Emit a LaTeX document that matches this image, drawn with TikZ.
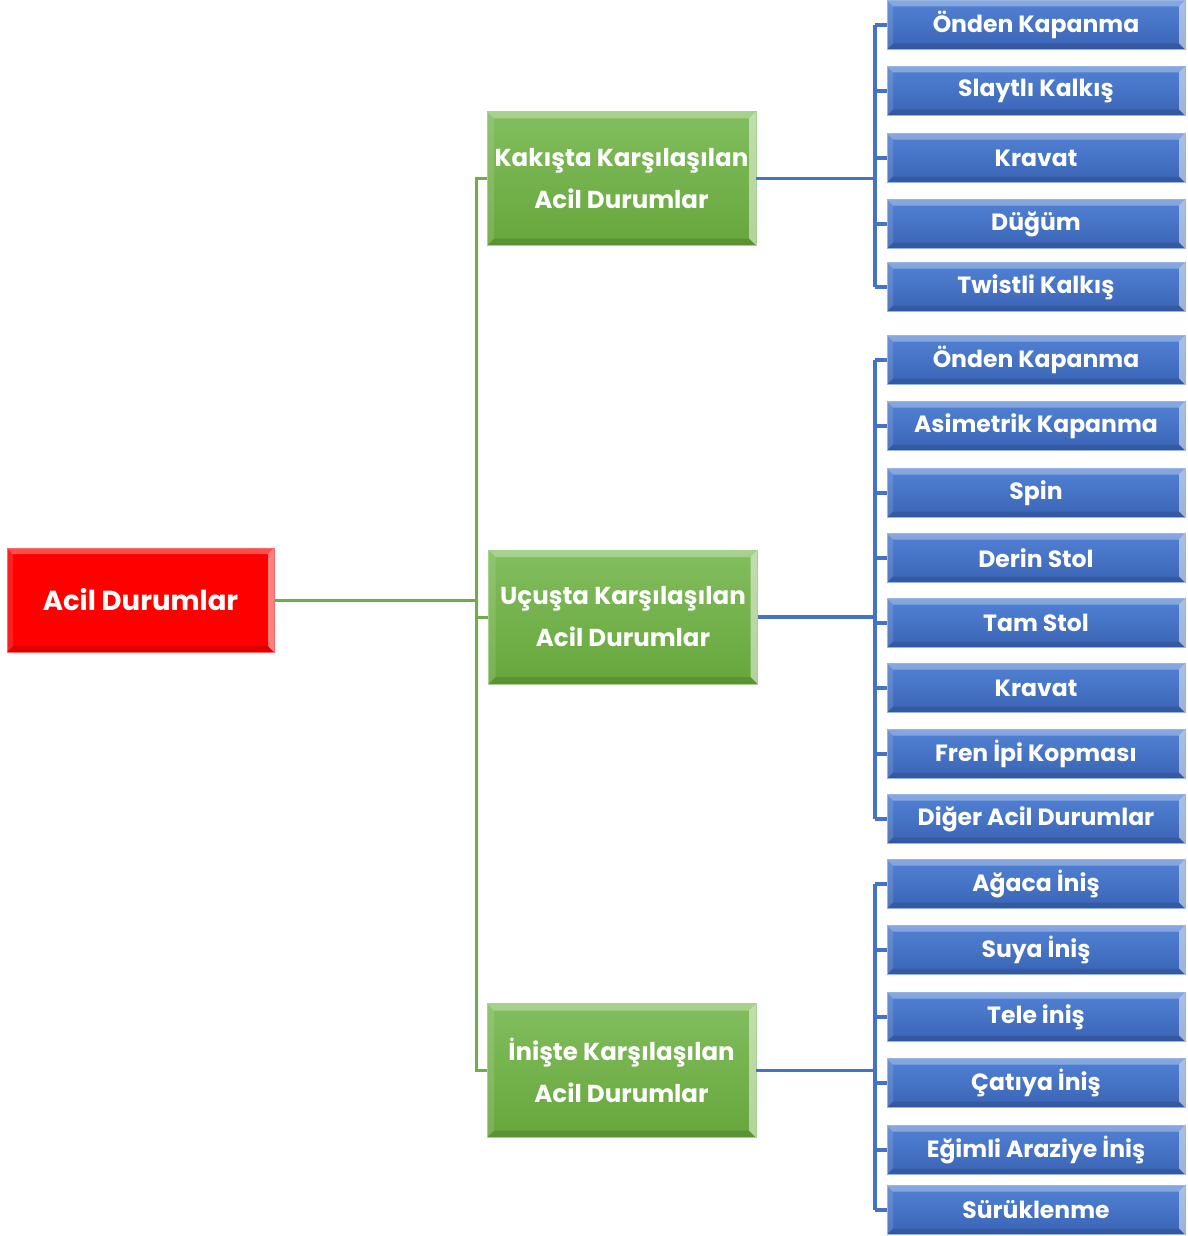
\documentclass[tikz,border=0pt]{standalone}
\usepackage{fontspec}
\setmainfont{Poppins}
\usetikzlibrary{calc}
\definecolor{rbase}{HTML}{FF0000}
\definecolor{gtop}{HTML}{82BE5E}
\definecolor{gbot}{HTML}{67A63C}
\definecolor{btop}{HTML}{5282D4}
\definecolor{bbot}{HTML}{3A64B6}
\definecolor{gline}{HTML}{70AD47}
\definecolor{bline}{HTML}{4472C4}
\tikzset{
  bevel/.style={path picture={
    \coordinate (pnw) at (path picture bounding box.north west);
    \coordinate (pne) at (path picture bounding box.north east);
    \coordinate (psw) at (path picture bounding box.south west);
    \coordinate (pse) at (path picture bounding box.south east);
    \fill[white,opacity=0.30] (pnw) -- (pne) -- ($(pne)+(-#1,-#1)$) -- ($(pnw)+(#1,-#1)$) -- cycle;
    \fill[white,opacity=0.12] (pnw) -- ($(pnw)+(#1,-#1)$) -- ($(psw)+(#1,#1)$) -- (psw) -- cycle;
    \fill[white,opacity=0.50] (pne) -- ($(pne)+(-#1,-#1)$) -- ($(pse)+(-#1,#1)$) -- (pse) -- cycle;
    \fill[black,opacity=0.12] (psw) -- ($(psw)+(#1,#1)$) -- ($(pse)+(-#1,#1)$) -- (pse) -- cycle;
  }},
  rootbox/.style={inner sep=0pt, minimum width=267pt, minimum height=104pt,
    fill=rbase, draw=red!60!white, line width=0.6pt, bevel=6pt, text=white,
    font=\fontsize{27.5}{33}\selectfont\bfseries},
  greenbox/.style={inner sep=0pt, minimum width=269pt, minimum height=134pt,
    top color=gtop, bottom color=gbot, draw=gtop!70!white, line width=0.6pt, bevel=7pt,
    text=white, align=center, font=\fontsize{24.5}{42}\selectfont\bfseries},
  bluebox/.style={inner sep=0pt, minimum width=298pt, minimum height=49pt,
    top color=btop, bottom color=bbot, draw=btop!60!white, line width=0.6pt, bevel=6pt,
    text=white, font=\fontsize{23.5}{28}\selectfont\bfseries},
  gconn/.style={draw=gline, line width=3pt},
  bconn/.style={draw=bline, line width=3.2pt},
}
\begin{document}
\begin{tikzpicture}[x=1pt,y=-1pt]
\useasboundingbox (0,0) rectangle (1187,1236);
% root
\node[rootbox] (r) at (140.5,600) {Acil Durumlar};
% green nodes
\node[greenbox] (g1) at (621.5,178.5) {Kakışta Karşılaşılan\\Acil Durumlar};
\node[greenbox] (g2) at (623,617) {Uçuşta Karşılaşılan\\Acil Durumlar};
\node[greenbox] (g3) at (621.5,1070.5) {İnişte Karşılaşılan\\Acil Durumlar};
% trunk coordinates
\coordinate (gt) at (476,600);
\coordinate (bt) at (875,600);
% blue group 1
\node[bluebox] (a1) at (1036,25) {Önden Kapanma};
\node[bluebox] (a2) at (1036,91) {Slaytlı Kalkış};
\node[bluebox] (a3) at (1036,158) {Kravat};
\node[bluebox] (a4) at (1036,224) {Düğüm};
\node[bluebox] (a5) at (1036,287) {Twistli Kalkış};
% blue group 2
\node[bluebox] (b1) at (1036,360) {Önden Kapanma};
\node[bluebox] (b2) at (1036,426) {Asimetrik Kapanma};
\node[bluebox] (b3) at (1036,493) {Spin};
\node[bluebox] (b4) at (1036,558) {Derin Stol};
\node[bluebox] (b5) at (1036,623) {Tam Stol};
\node[bluebox] (b6) at (1036,688) {Kravat};
\node[bluebox] (b7) at (1036,754) {Fren İpi Kopması};
\node[bluebox] (b8) at (1036,819) {Diğer Acil Durumlar};
% blue group 3
\node[bluebox] (c1) at (1036,884) {Ağaca İniş};
\node[bluebox] (c2) at (1036,950) {Suya İniş};
\node[bluebox] (c3) at (1036,1017) {Tele iniş};
\node[bluebox] (c4) at (1036,1083) {Çatıya İniş};
\node[bluebox] (c5) at (1036,1150) {Eğimli Araziye İniş};
\node[bluebox] (c6) at (1036,1210) {Sürüklenme};
% green connectors
\draw[gconn] (r.east) -- (gt);
\draw[gconn] (g1.west) -- (g1.west -| gt) -- (g3.west -| gt) -- (g3.west);
\draw[gconn] (g2.west) -- (g2.west -| gt);
% blue connectors
\draw[bconn] (g1.east) -- (g1.east -| bt);
\draw[bconn] (g2.east) -- (g2.east -| bt);
\draw[bconn] (g3.east) -- (g3.east -| bt);
\draw[bconn] (a1.west -| bt) -- (a5.west -| bt);
\draw[bconn] (b1.west -| bt) -- (b8.west -| bt);
\draw[bconn] (c1.west -| bt) -- (c6.west -| bt);
\foreach \n in {a1,a2,a3,a4,a5,b1,b2,b3,b4,b5,b6,b7,b8,c1,c2,c3,c4,c5,c6}
  \draw[bconn] (\n.west -| bt) -- (\n.west);
\end{tikzpicture}
\end{document}
